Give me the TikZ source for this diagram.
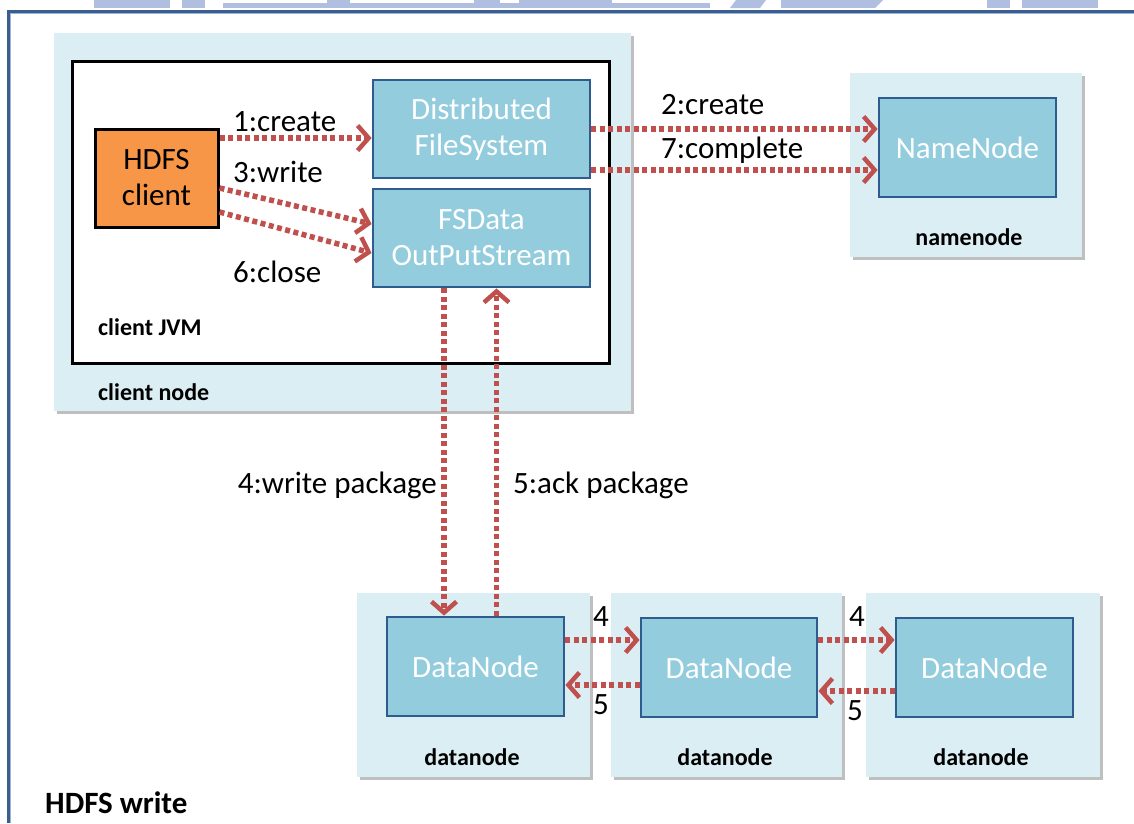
\documentclass[tikz,border=0pt]{standalone}
\usepackage{fontspec}
\setmainfont{Carlito}
\usetikzlibrary{arrows.meta,shadows}

\definecolor{hostbg}{HTML}{DBEEF4}
\definecolor{procfill}{HTML}{93CDDD}
\definecolor{procline}{HTML}{2F5C8F}
\definecolor{clientfill}{HTML}{F79646}
\definecolor{flowred}{HTML}{C0504D}
\definecolor{frameblue}{HTML}{3A5F8F}
\definecolor{framelight}{HTML}{9BB4D4}
\definecolor{banner}{HTML}{B0BFDF}

\tikzset{
  host/.style={fill=hostbg, draw=none, inner sep=0pt,
    drop shadow={shadow xshift=3pt, shadow yshift=-3pt, fill=black, opacity=0.25}},
  proc/.style={fill=procfill, draw=procline, line width=2.8pt, text=white,
    align=center, inner sep=0pt, font=\fontsize{31}{36}\selectfont},
  tag/.style={inner sep=0pt, font=\bfseries\fontsize{24}{28}\selectfont},
  msg/.style={inner sep=0pt, font=\fontsize{31}{36}\selectfont},
  num/.style={inner sep=0pt, font=\fontsize{31}{36}\selectfont},
  flow/.style={draw=flowred, line width=5.5pt, dash pattern=on 5pt off 3.5pt,
    -{Straight Barb[length=11pt, width=25pt, line width=4.5pt]}},
}

\begin{document}
\begin{tikzpicture}[x=1pt, y=-1pt]
\useasboundingbox (0,0) rectangle (1134,823);
\fill[white] (0,0) rectangle (1134,823);

% header strip cut off at the top edge
\fill[banner] (94,0) rectangle (170,8);
\fill[banner] (182,0) rectangle (205,8);
\fill[banner] (223,3) rectangle (327,8);
\fill[banner] (327,0) rectangle (350,8);
\fill[banner] (350,3) rectangle (519,8);
\fill[banner] (474,0) rectangle (500,8);
\fill[banner] (519,0) rectangle (612,8);
\fill[banner] (612,3) rectangle (710,8);
\fill[banner] (736,0) -- (766,0) -- (760,8) -- (730,8) -- cycle;
\fill[banner] (781,0) rectangle (875,8);
\fill[banner] (875,0) -- (883,0) -- (875,8) -- cycle;
\fill[banner] (987,0) rectangle (1010,8);
\fill[banner] (1022,0) rectangle (1098,8);

% page frame
\draw[frameblue, line width=3pt] (8,823) -- (8,11) -- (1134,11);
\draw[framelight, line width=1pt] (10.5,823) -- (10.5,13.5) -- (1134,13.5);

% client node
\node[host, minimum width=577pt, minimum height=378pt] (clientnode) at (342.5,222) {};
\node[fill=white, draw=black, line width=3pt, minimum width=537pt, minimum height=302pt, inner sep=0pt] (jvm) at (340.5,212) {};
\node[fill=clientfill, draw=black, line width=3pt, align=center, inner sep=0pt,
      minimum width=123pt, minimum height=98pt, font=\fontsize{31}{36}\selectfont] (hdfs) at (156.5,178) {HDFS\\client};
\node[proc, minimum width=217pt, minimum height=98pt] (dfs) at (481.5,129) {Distributed\\FileSystem};
\node[proc, minimum width=217pt, minimum height=98pt] (fsd) at (481.5,238) {FSData\\OutPutStream};
\node[tag, anchor=west] (jvmlabel) at (98,327) {client JVM};
\node[tag, anchor=west] (clientlabel) at (98,392) {client node};

% namenode
\node[host, minimum width=232pt, minimum height=184pt] (nnhost) at (966,165) {};
\node[proc, minimum width=177pt, minimum height=99pt] (nn) at (967.5,147.5) {NameNode};
\node[tag] (nnlabel) at (969,237) {namenode};

% datanodes
\node[host, minimum width=233pt, minimum height=184pt] (dnhost1) at (473.5,685) {};
\node[host, minimum width=231pt, minimum height=184pt] (dnhost2) at (726.5,685) {};
\node[host, minimum width=234pt, minimum height=184pt] (dnhost3) at (983,685) {};
\node[proc, minimum width=177pt, minimum height=99pt] (dn1) at (475.5,666.5) {DataNode};
\node[proc, minimum width=176pt, minimum height=99pt] (dn2) at (729,667.5) {DataNode};
\node[proc, minimum width=177pt, minimum height=99pt] (dn3) at (984.5,667.5) {DataNode};
\node[tag] (dnlabel1) at (472,757) {datanode};
\node[tag] (dnlabel2) at (725,757) {datanode};
\node[tag] (dnlabel3) at (981,757) {datanode};

% client side calls
\draw[flow] ([yshift=40pt]hdfs.east) -- ([yshift=-9pt]dfs.west);
\draw[flow] ([yshift=-10pt]hdfs.east) -- ([yshift=14pt]fsd.west);
\draw[flow] ([yshift=-34pt]hdfs.east) -- ([yshift=-15pt]fsd.west);
\node[msg, anchor=west] (m1) at (233,122) {1:create};
\node[msg, anchor=west] (m3) at (233,172) {3:write};
\node[msg, anchor=west] (m6) at (233,272) {6:close};

% calls to the namenode
\draw[flow] (dfs.east) -- ([yshift=18.5pt]nn.west);
\draw[flow] ([yshift=-41pt]dfs.east) -- ([yshift=-22.5pt]nn.west);
\node[msg, anchor=west] (m2) at (661,105) {2:create};
\node[msg, anchor=west] (m7) at (661,150) {7:complete};

% packets down the pipeline and acks back
\draw[flow] ([xshift=-37.5pt]fsd.south) -- ([xshift=-31.5pt]dn1.north);
\draw[flow] ([xshift=21pt]dn1.north) -- ([xshift=15pt]fsd.south);
\node[msg, anchor=east] (m4) at (437,485) {4:write package};
\node[msg, anchor=west] (m5) at (513,485) {5:ack package};

\draw[flow] ([yshift=26.5pt]dn1.east) -- ([yshift=27.5pt]dn2.west);
\draw[flow] ([yshift=-17.5pt]dn2.west) -- ([yshift=-18.5pt]dn1.east);
\draw[flow] ([yshift=27.5pt]dn2.east) -- ([yshift=27.5pt]dn3.west);
\draw[flow] ([yshift=-23.5pt]dn3.west) -- ([yshift=-23.5pt]dn2.east);
\node[num] (n4a) at (601,617) {4};
\node[num] (n5a) at (601,705) {5};
\node[num] (n4b) at (857,617) {4};
\node[num] (n5b) at (855,711) {5};

% caption
\node[inner sep=0pt, anchor=west, font=\bfseries\fontsize{31}{36}\selectfont] (caption) at (45,803) {HDFS write};
\end{tikzpicture}
\end{document}
